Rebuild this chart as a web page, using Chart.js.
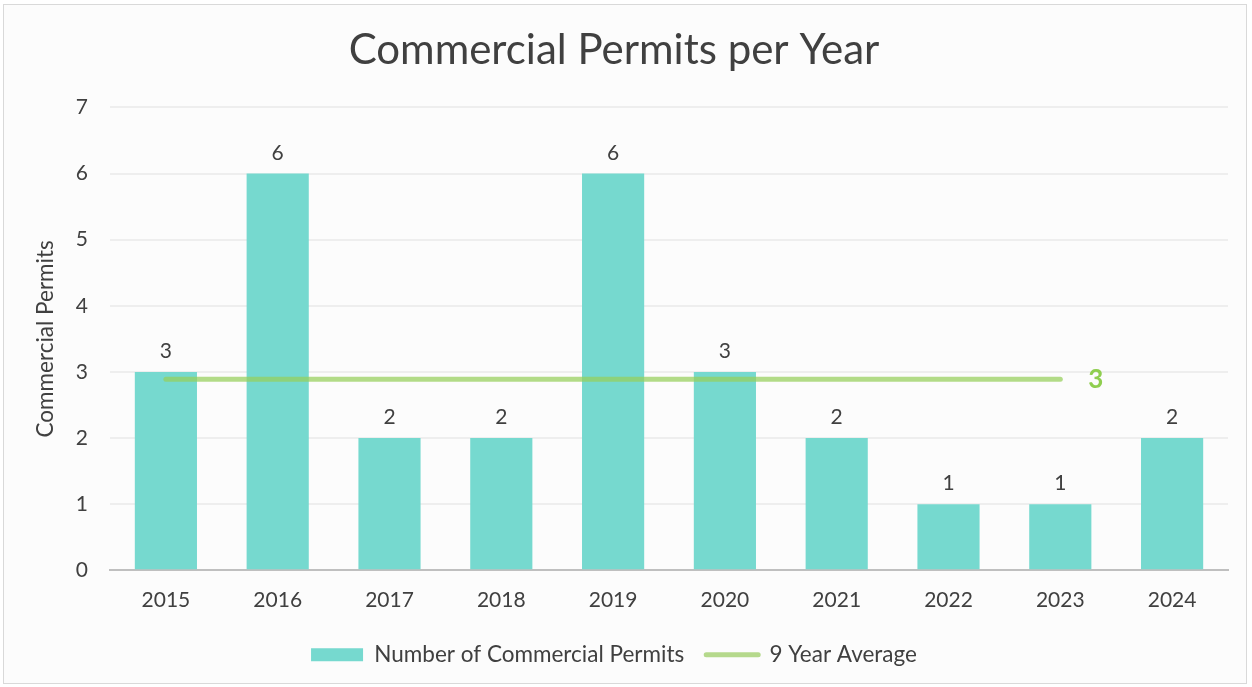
<!DOCTYPE html>
<html><head><meta charset="utf-8">
<script src="https://cdn.jsdelivr.net/npm/chart.js@4/dist/chart.umd.min.js"></script>
<style>
html,body{margin:0;padding:0;background:#fff;}
#wrap{position:absolute;left:3px;top:4px;width:1244px;height:680px;border:1px solid #d9d9d9;background:#fcfcfc;box-sizing:border-box;}
#c{position:absolute;left:0;top:0;}
</style></head><body>
<div id="wrap"></div>
<canvas id="c" width="1252" height="687"></canvas>
<script>
const years = ['2015','2016','2017','2018','2019','2020','2021','2022','2023','2024'];
const permits = [3,6,2,2,6,3,2,1,1,2];
const averageValues = [2.89,2.89,2.89,2.89,2.89,2.89,2.89,2.89,2.89,null];
const yTicks = [0,1,2,3,4,5,6,7];

const FONT = 'Lato, "Open Sans", sans-serif';
const TXT = '#404040';

const labelPlugin = {
  id: 'labels',
  afterDatasetsDraw(chart) {
    const ctx = chart.ctx;
    const barMeta = chart.getDatasetMeta(0);
    ctx.save();
    ctx.font = '21px ' + FONT;
    ctx.fillStyle = TXT;
    ctx.textAlign = 'center';
    ctx.textBaseline = 'bottom';
    barMeta.data.forEach((bar, i) => {
      ctx.fillText(String(permits[i]), bar.x, bar.y - 10);
    });
    const lineMeta = chart.getDatasetMeta(1);
    let last = -1;
    averageValues.forEach((v, i) => { if (v !== null) last = i; });
    const pt = lineMeta.data[last];
    ctx.font = 'bold 26px ' + FONT;
    ctx.fillStyle = '#8fce4f';
    ctx.textAlign = 'left';
    ctx.textBaseline = 'middle';
    ctx.fillText(String(Math.round(averageValues[last])), pt.x + 28, pt.y);
    ctx.restore();
  }
};

new Chart(document.getElementById('c'), {
  data: {
    labels: years,
    datasets: [
      {
        type: 'bar',
        label: 'Number of Commercial Permits',
        data: permits,
        backgroundColor: '#76d9cf',
        barPercentage: 0.556,
        categoryPercentage: 1.0,
        order: 2
      },
      {
        type: 'line',
        label: '9 Year Average',
        data: averageValues,
        borderColor: 'rgba(150,206,90,0.72)',
        backgroundColor: 'rgba(150,206,90,0.72)',
        borderWidth: 5,
        borderCapStyle: 'round',
        pointRadius: 0,
        fill: false,
        spanGaps: false,
        order: 1
      }
    ]
  },
  options: {
    responsive: false,
    animation: false,
    layout: { padding: { left: 0, right: 24, top: 0, bottom: 11 } },
    plugins: {
      title: {
        display: true,
        text: 'Commercial Permits per Year',
        color: TXT,
        font: { family: FONT, size: 42, weight: 'normal' },
        padding: { top: 25, bottom: 32 }
      },
      legend: {
        position: 'bottom',
        labels: {
          color: TXT,
          font: { family: FONT, size: 22.5 },
          usePointStyle: true,
          pointStyleWidth: 52,
          boxHeight: 13,
          padding: 22,
          generateLabels(chart) {
            return chart.data.datasets.map((ds, i) => ({
              text: ds.label,
              fillStyle: ds.backgroundColor,
              strokeStyle: i === 0 ? ds.backgroundColor : '#b5d98c',
              lineWidth: i === 0 ? 0 : 5,
              lineCap: 'round',
              pointStyle: i === 0 ? 'rect' : 'line',
              datasetIndex: i,
              hidden: false,
              fontColor: TXT
            }));
          }
        }
      },
      tooltip: { enabled: false }
    },
    scales: {
      x: {
        grid: { display: false },
        border: { color: '#bfbfbf', width: 2 },
        ticks: { color: TXT, font: { family: FONT, size: 21 }, padding: 9 }
      },
      y: {
        min: 0, max: 7,
        afterBuildTicks(scale) { scale.ticks = yTicks.map(v => ({ value: v })); },
        afterFit(scale) { scale.width = 110; },
        grid: { color: '#eeeeee', lineWidth: 2, drawTicks: false },
        border: { display: false },
        ticks: { color: TXT, font: { family: FONT, size: 21 }, padding: 22 },
        title: {
          display: true,
          text: 'Commercial Permits',
          color: TXT,
          font: { family: FONT, size: 22.5 },
          padding: { top: 32, bottom: 0 }
        }
      }
    }
  },
  plugins: [labelPlugin]
});
</script>
</body></html>
